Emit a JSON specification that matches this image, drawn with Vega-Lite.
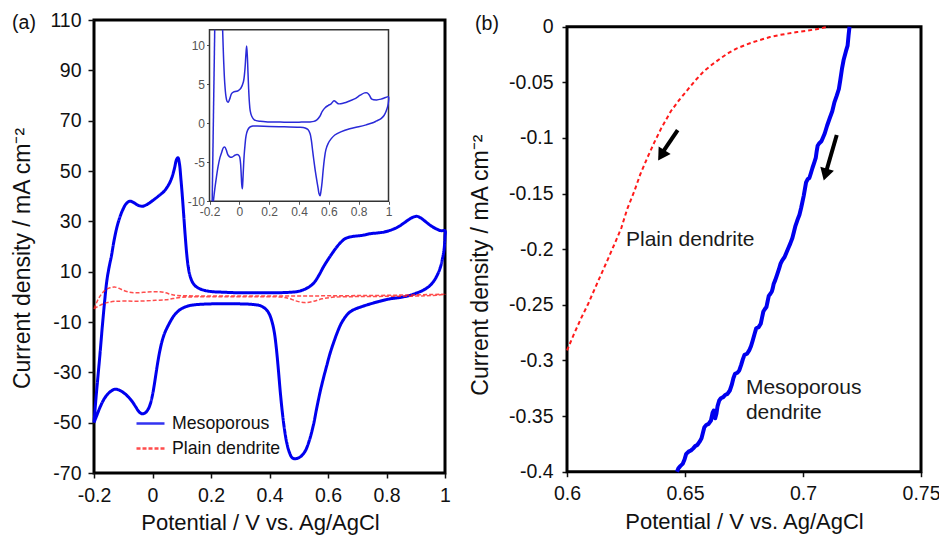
{
  "$schema": "https://vega.github.io/schema/vega-lite/v6.json",
  "background": "white",
  "padding": {"left": 10, "top": 8, "right": 0, "bottom": 0},
  "datasets": {
    "meso": [
      {"E":-0.2,"J":-50},{"E":-0.193,"J":-40},{"E":-0.186,"J":-31},{"E":-0.179,"J":-22},{"E":-0.171,"J":-11},{"E":-0.163,"J":-1},{"E":-0.156,"J":6.5},{"E":-0.148,"J":12},{"E":-0.14,"J":16.5},{"E":-0.132,"J":22},{"E":-0.122,"J":27.5},{"E":-0.112,"J":31.5},{"E":-0.102,"J":34.5},{"E":-0.09,"J":37},{"E":-0.078,"J":38},{"E":-0.065,"J":37.5},{"E":-0.05,"J":36.4},{"E":-0.035,"J":36},{"E":-0.02,"J":36.6},{"E":0,"J":38.2},{"E":0.02,"J":40},{"E":0.04,"J":42},{"E":0.055,"J":44.5},{"E":0.065,"J":47},{"E":0.075,"J":51},{"E":0.082,"J":54.5},{"E":0.087,"J":55.3},{"E":0.092,"J":53},{"E":0.097,"J":47},{"E":0.102,"J":40},{"E":0.107,"J":32},{"E":0.112,"J":24},{"E":0.117,"J":17},{"E":0.122,"J":12},{"E":0.128,"J":8.5},{"E":0.135,"J":6.2},{"E":0.145,"J":4.5},{"E":0.16,"J":3.3},{"E":0.18,"J":2.5},{"E":0.2,"J":2.1},{"E":0.25,"J":1.8},{"E":0.3,"J":1.6},{"E":0.35,"J":1.6},{"E":0.4,"J":1.6},{"E":0.45,"J":1.7},{"E":0.48,"J":1.9},{"E":0.5,"J":2.2},{"E":0.52,"J":3},{"E":0.54,"J":4.3},{"E":0.555,"J":6},{"E":0.57,"J":8.8},{"E":0.585,"J":12},{"E":0.6,"J":14.8},{"E":0.615,"J":17.4},{"E":0.63,"J":19.8},{"E":0.645,"J":21.8},{"E":0.66,"J":23.2},{"E":0.68,"J":23.9},{"E":0.7,"J":24.2},{"E":0.72,"J":24.5},{"E":0.745,"J":25.1},{"E":0.77,"J":25.4},{"E":0.79,"J":25.7},{"E":0.812,"J":26.4},{"E":0.835,"J":27.5},{"E":0.857,"J":29.1},{"E":0.875,"J":30.6},{"E":0.89,"J":31.6},{"E":0.903,"J":32},{"E":0.915,"J":31.5},{"E":0.927,"J":30.5},{"E":0.94,"J":29.3},{"E":0.955,"J":28},{"E":0.972,"J":26.9},{"E":0.985,"J":26.3},{"E":1,"J":26.2},
      {"E":1,"J":24},{"E":0.997,"J":19},{"E":0.992,"J":15.5},{"E":0.985,"J":12},{"E":0.975,"J":9},{"E":0.962,"J":6.3},{"E":0.945,"J":4.1},{"E":0.925,"J":2.6},{"E":0.9,"J":1.4},{"E":0.88,"J":0.6},{"E":0.85,"J":-0.2},{"E":0.812,"J":-0.8},{"E":0.775,"J":-1.8},{"E":0.745,"J":-2.8},{"E":0.715,"J":-3.9},{"E":0.69,"J":-5},{"E":0.672,"J":-6.3},{"E":0.658,"J":-8.2},{"E":0.645,"J":-10.6},{"E":0.633,"J":-13.8},{"E":0.62,"J":-17.9},{"E":0.607,"J":-22.5},{"E":0.596,"J":-27.2},{"E":0.584,"J":-32.5},{"E":0.573,"J":-37.8},{"E":0.561,"J":-44.5},{"E":0.55,"J":-51},{"E":0.535,"J":-57.5},{"E":0.521,"J":-61.5},{"E":0.505,"J":-63.6},{"E":0.49,"J":-64.3},{"E":0.478,"J":-64},{"E":0.468,"J":-61.8},{"E":0.459,"J":-58},{"E":0.451,"J":-52.5},{"E":0.444,"J":-46},{"E":0.437,"J":-38},{"E":0.43,"J":-28.5},{"E":0.423,"J":-20},{"E":0.417,"J":-14.5},{"E":0.41,"J":-10.5},{"E":0.4,"J":-7},{"E":0.39,"J":-5.2},{"E":0.38,"J":-4.2},{"E":0.368,"J":-3.5},{"E":0.34,"J":-3},{"E":0.3,"J":-2.8},{"E":0.25,"J":-2.7},{"E":0.2,"J":-2.8},{"E":0.16,"J":-3},{"E":0.13,"J":-3.4},{"E":0.11,"J":-4.1},{"E":0.095,"J":-5},{"E":0.083,"J":-6.2},{"E":0.072,"J":-7.7},{"E":0.062,"J":-9.6},{"E":0.052,"J":-11.8},{"E":0.042,"J":-14.3},{"E":0.033,"J":-17.5},{"E":0.025,"J":-21.5},{"E":0.018,"J":-26},{"E":0.012,"J":-30.5},{"E":0.006,"J":-35},{"E":0.0,"J":-39},{"E":-0.007,"J":-42.4},{"E":-0.015,"J":-44.7},{"E":-0.025,"J":-46.1},{"E":-0.035,"J":-46.5},{"E":-0.045,"J":-45.8},{"E":-0.058,"J":-43.6},{"E":-0.07,"J":-41.5},{"E":-0.085,"J":-39.5},{"E":-0.1,"J":-38},{"E":-0.115,"J":-37},{"E":-0.128,"J":-36.7},{"E":-0.14,"J":-37.3},{"E":-0.152,"J":-38.5},{"E":-0.165,"J":-40.5},{"E":-0.178,"J":-43.5},{"E":-0.19,"J":-47},{"E":-0.2,"J":-50}
    ],
    "plain": [
      {"E":-0.2,"J":-4.8},{"E":-0.188,"J":-1.5},{"E":-0.175,"J":1},{"E":-0.16,"J":2.8},{"E":-0.145,"J":3.6},{"E":-0.13,"J":3.9},{"E":-0.115,"J":3.4},{"E":-0.1,"J":2.6},{"E":-0.08,"J":1.9},{"E":-0.06,"J":1.6},{"E":-0.03,"J":1.8},{"E":0,"J":2},{"E":0.025,"J":2},{"E":0.045,"J":1.6},{"E":0.065,"J":0.9},{"E":0.085,"J":0.5},{"E":0.12,"J":0.4},{"E":0.2,"J":0.35},{"E":0.3,"J":0.35},{"E":0.4,"J":0.35},{"E":0.5,"J":0.35},{"E":0.6,"J":0.4},{"E":0.7,"J":0.5},{"E":0.8,"J":0.6},{"E":0.9,"J":0.8},{"E":1,"J":1},
      {"E":0.95,"J":0.5},{"E":0.9,"J":0.3},{"E":0.8,"J":0.2},{"E":0.7,"J":0.1},{"E":0.62,"J":-0.1},{"E":0.58,"J":-0.8},{"E":0.55,"J":-1.8},{"E":0.52,"J":-2.3},{"E":0.49,"J":-1.6},{"E":0.465,"J":-0.6},{"E":0.44,"J":-0.1},{"E":0.35,"J":0},{"E":0.25,"J":0},{"E":0.15,"J":0},{"E":0.1,"J":-0.2},{"E":0.07,"J":-0.7},{"E":0.045,"J":-1.2},{"E":0.01,"J":-1.4},{"E":-0.04,"J":-1.7},{"E":-0.09,"J":-1.7},{"E":-0.13,"J":-1.8},{"E":-0.155,"J":-2.3},{"E":-0.178,"J":-3.3},{"E":-0.2,"J":-4.8}
    ],
    "insetRise": [{"E":-0.182,"J":-10},{"E":-0.165,"J":12}],
    "inset": [
      {"E":-0.112,"J":12},{"E":-0.105,"J":8},{"E":-0.098,"J":5.2},{"E":-0.09,"J":3.5},{"E":-0.082,"J":2.8},{"E":-0.075,"J":2.7},{"E":-0.065,"J":3.1},{"E":-0.052,"J":3.8},{"E":-0.04,"J":4.0},{"E":-0.02,"J":4.1},{"E":-0.007,"J":4.2},{"E":0.01,"J":4.5},{"E":0.027,"J":5.3},{"E":0.037,"J":6.8},{"E":0.044,"J":8.8},{"E":0.049,"J":9.9},{"E":0.054,"J":8.5},{"E":0.058,"J":6.5},{"E":0.062,"J":4.6},{"E":0.067,"J":2.8},{"E":0.073,"J":1.6},{"E":0.083,"J":0.9},{"E":0.1,"J":0.45},{"E":0.14,"J":0.25},{"E":0.2,"J":0.17},{"E":0.3,"J":0.15},{"E":0.4,"J":0.15},{"E":0.47,"J":0.17},{"E":0.5,"J":0.25},{"E":0.52,"J":0.45},{"E":0.54,"J":0.9},{"E":0.555,"J":1.5},{"E":0.575,"J":2},{"E":0.597,"J":2.3},{"E":0.615,"J":2.5},{"E":0.635,"J":2.9},{"E":0.65,"J":2.7},{"E":0.664,"J":2.5},{"E":0.7,"J":2.6},{"E":0.743,"J":2.9},{"E":0.78,"J":3.2},{"E":0.81,"J":3.6},{"E":0.84,"J":3.9},{"E":0.857,"J":3.9},{"E":0.872,"J":3.6},{"E":0.888,"J":3.1},{"E":0.92,"J":3.0},{"E":0.95,"J":3.1},{"E":0.98,"J":3.3},{"E":1,"J":3.4},
      {"E":1,"J":2.8},{"E":0.995,"J":2.2},{"E":0.985,"J":1.6},{"E":0.97,"J":1.0},{"E":0.95,"J":0.6},{"E":0.92,"J":0.3},{"E":0.9,"J":0.1},{"E":0.85,"J":-0.2},{"E":0.8,"J":-0.45},{"E":0.74,"J":-0.7},{"E":0.68,"J":-1.1},{"E":0.64,"J":-1.5},{"E":0.615,"J":-2},{"E":0.595,"J":-2.6},{"E":0.58,"J":-3.4},{"E":0.57,"J":-4.6},{"E":0.562,"J":-6},{"E":0.555,"J":-7.5},{"E":0.548,"J":-8.6},{"E":0.541,"J":-9.3},{"E":0.534,"J":-9.0},{"E":0.528,"J":-8.3},{"E":0.52,"J":-7.4},{"E":0.51,"J":-6.2},{"E":0.5,"J":-4.8},{"E":0.492,"J":-3.6},{"E":0.483,"J":-2.2},{"E":0.474,"J":-1.3},{"E":0.46,"J":-0.8},{"E":0.441,"J":-0.6},{"E":0.4,"J":-0.5},{"E":0.3,"J":-0.45},{"E":0.2,"J":-0.4},{"E":0.12,"J":-0.35},{"E":0.09,"J":-0.35},{"E":0.07,"J":-0.5},{"E":0.055,"J":-0.9},{"E":0.045,"J":-1.6},{"E":0.038,"J":-2.8},{"E":0.032,"J":-4.2},{"E":0.027,"J":-6},{"E":0.023,"J":-7.6},{"E":0.02,"J":-8.4},{"E":0.016,"J":-7.8},{"E":0.012,"J":-6.3},{"E":0.007,"J":-4.9},{"E":0.0,"J":-4.2},{"E":-0.015,"J":-4.0},{"E":-0.03,"J":-4.1},{"E":-0.045,"J":-4.3},{"E":-0.06,"J":-4.35},{"E":-0.075,"J":-4.1},{"E":-0.088,"J":-3.4},{"E":-0.097,"J":-3.05},{"E":-0.106,"J":-3.1},{"E":-0.118,"J":-3.7},{"E":-0.13,"J":-4.4},{"E":-0.143,"J":-5.6},{"E":-0.155,"J":-7.1},{"E":-0.165,"J":-8.5},{"E":-0.174,"J":-10}
    ],
    "plainB": [
      {"E":0.6,"J":-0.291},{"E":0.603,"J":-0.276},{"E":0.606,"J":-0.262},{"E":0.609,"J":-0.249},{"E":0.6125,"J":-0.232},{"E":0.6165,"J":-0.213},{"E":0.62,"J":-0.196},{"E":0.623,"J":-0.181},{"E":0.6255,"J":-0.164},{"E":0.6285,"J":-0.148},{"E":0.631,"J":-0.133},{"E":0.634,"J":-0.118},{"E":0.637,"J":-0.104},{"E":0.64,"J":-0.091},{"E":0.644,"J":-0.076},{"E":0.6475,"J":-0.066},{"E":0.651,"J":-0.057},{"E":0.6545,"J":-0.048},{"E":0.658,"J":-0.04},{"E":0.6615,"J":-0.034},{"E":0.665,"J":-0.0285},{"E":0.6685,"J":-0.0235},{"E":0.672,"J":-0.0195},{"E":0.6755,"J":-0.0165},{"E":0.679,"J":-0.0138},{"E":0.6825,"J":-0.0115},{"E":0.686,"J":-0.0093},{"E":0.69,"J":-0.0075},{"E":0.694,"J":-0.006},{"E":0.6975,"J":-0.0048},{"E":0.701,"J":-0.0038},{"E":0.704,"J":-0.0028},{"E":0.707,"J":-0.0018},{"E":0.709,"J":-0.0008},{"E":0.711,"J":0}
    ],
    "mesoB": [
      {"E":0.7197,"J":0},{"E":0.7193,"J":-0.008},{"E":0.7189,"J":-0.017},{"E":0.7182,"J":-0.022},{"E":0.7172,"J":-0.03},{"E":0.7165,"J":-0.038},{"E":0.7158,"J":-0.048},{"E":0.7152,"J":-0.056},{"E":0.7143,"J":-0.062},{"E":0.7133,"J":-0.068},{"E":0.7124,"J":-0.076},{"E":0.7112,"J":-0.083},{"E":0.7102,"J":-0.089},{"E":0.7092,"J":-0.096},{"E":0.7084,"J":-0.1},{"E":0.7078,"J":-0.103},{"E":0.7068,"J":-0.105},{"E":0.7062,"J":-0.107},{"E":0.7058,"J":-0.112},{"E":0.7054,"J":-0.118},{"E":0.7048,"J":-0.122},{"E":0.704,"J":-0.127},{"E":0.7033,"J":-0.132},{"E":0.7027,"J":-0.136},{"E":0.702,"J":-0.137},{"E":0.7013,"J":-0.14},{"E":0.7008,"J":-0.146},{"E":0.7003,"J":-0.152},{"E":0.6997,"J":-0.158},{"E":0.6992,"J":-0.163},{"E":0.6985,"J":-0.169},{"E":0.6976,"J":-0.174},{"E":0.6968,"J":-0.179},{"E":0.6962,"J":-0.184},{"E":0.6955,"J":-0.19},{"E":0.6946,"J":-0.195},{"E":0.6938,"J":-0.199},{"E":0.693,"J":-0.203},{"E":0.6922,"J":-0.207},{"E":0.6912,"J":-0.21},{"E":0.6905,"J":-0.213},{"E":0.6898,"J":-0.218},{"E":0.689,"J":-0.223},{"E":0.6882,"J":-0.228},{"E":0.6876,"J":-0.231},{"E":0.6872,"J":-0.235},{"E":0.6868,"J":-0.238},{"E":0.6862,"J":-0.24},{"E":0.6855,"J":-0.242},{"E":0.685,"J":-0.247},{"E":0.6845,"J":-0.252},{"E":0.6838,"J":-0.254},{"E":0.6832,"J":-0.256},{"E":0.6826,"J":-0.262},{"E":0.6821,"J":-0.267},{"E":0.6812,"J":-0.27},{"E":0.6802,"J":-0.271},{"E":0.6795,"J":-0.276},{"E":0.6787,"J":-0.282},{"E":0.678,"J":-0.287},{"E":0.6772,"J":-0.291},{"E":0.6763,"J":-0.294},{"E":0.6752,"J":-0.295},{"E":0.6745,"J":-0.299},{"E":0.6738,"J":-0.304},{"E":0.673,"J":-0.309},{"E":0.6722,"J":-0.311},{"E":0.6712,"J":-0.312},{"E":0.6705,"J":-0.316},{"E":0.6698,"J":-0.322},{"E":0.669,"J":-0.327},{"E":0.668,"J":-0.33},{"E":0.667,"J":-0.331},{"E":0.6662,"J":-0.333},{"E":0.6652,"J":-0.334},{"E":0.6645,"J":-0.336},{"E":0.6638,"J":-0.341},{"E":0.6633,"J":-0.348},{"E":0.6628,"J":-0.352},{"E":0.6622,"J":-0.345},{"E":0.6617,"J":-0.347},{"E":0.661,"J":-0.354},{"E":0.66,"J":-0.357},{"E":0.659,"J":-0.358},{"E":0.6582,"J":-0.36},{"E":0.6576,"J":-0.365},{"E":0.657,"J":-0.37},{"E":0.6562,"J":-0.373},{"E":0.6552,"J":-0.376},{"E":0.6543,"J":-0.377},{"E":0.6535,"J":-0.379},{"E":0.6525,"J":-0.381},{"E":0.6515,"J":-0.382},{"E":0.6505,"J":-0.384},{"E":0.6498,"J":-0.389},{"E":0.649,"J":-0.393},{"E":0.648,"J":-0.395},{"E":0.6472,"J":-0.397},{"E":0.6466,"J":-0.4}
    ]
  },
  "concat": [
    {
      "width": 351,
      "height": 453,
      "layer": [
        {
          "layer": [
            {
              "data": {"name": "meso"},
              "mark": {"type": "line", "strokeWidth": 3, "interpolate": "catmull-rom", "strokeJoin": "round"},
              "encoding": {
                "x": {"field": "E", "type": "quantitative", "scale": {"domain": [-0.2, 1], "nice": false, "zero": false},
                      "axis": {"values": [-0.2, 0, 0.2, 0.4, 0.6, 0.8, 1], "format": "~g", "title": "Potential / V vs. Ag/AgCl", "titleX": 166, "tickSize": 5, "labelPadding": 8, "titlePadding": 8}},
                "y": {"field": "J", "type": "quantitative", "scale": {"domain": [-70, 110], "nice": false, "zero": false},
                      "axis": {"values": [-70, -50, -30, -10, 10, 30, 50, 70, 90, 110], "title": "Current density / mA cm⁻²", "titleY": 238, "tickSize": 6, "labelPadding": 7, "titlePadding": 15}},
                "order": {"value": null},
                "color": {"datum": "Mesoporous", "type": "nominal", "scale": {"domain": ["Mesoporous", "Plain dendrite"], "range": ["#0000ee", "#ff2020"]},
                          "legend": {"orient": "none", "legendX": 41, "legendY": 388, "title": null, "padding": 0, "labelFont": "Liberation Sans", "labelFontSize": 17.7, "labelColor": "#111", "symbolType": "stroke", "symbolSize": 784, "symbolStrokeWidth": 2.5, "labelOffset": 6, "rowPadding": -2.6}},
                "strokeDash": {"datum": "Mesoporous", "type": "nominal", "scale": {"domain": ["Mesoporous", "Plain dendrite"], "range": [[1, 0], [4, 2]]}}
              }
            },
            {
              "data": {"name": "plain"},
              "mark": {"type": "line", "strokeWidth": 1.5, "interpolate": "catmull-rom", "opacity": 0.8},
              "encoding": {
                "x": {"field": "E", "type": "quantitative"},
                "y": {"field": "J", "type": "quantitative"},
                "order": {"value": null},
                "color": {"datum": "Plain dendrite", "type": "nominal"},
                "strokeDash": {"datum": "Plain dendrite", "type": "nominal"}
              }
            },
            {
              "data": {"values": [{"E": -0.2, "J": 110, "t": "(a)"}]},
              "mark": {"type": "text", "fontSize": 19.5, "font": "Liberation Sans", "color": "#111", "align": "center", "baseline": "middle", "dx": -70, "dy": 3},
              "encoding": {
                "x": {"field": "E", "type": "quantitative"},
                "y": {"field": "J", "type": "quantitative"},
                "text": {"field": "t"}
              }
            }
          ]
        },
        {
          "layer": [
            {
              "data": {"values": [{"x0": -0.2, "x1": 1, "y0": -10, "y1": 12}]},
              "mark": {"type": "rect", "fill": "white", "stroke": "#333", "strokeWidth": 1.5},
              "encoding": {
                "x": {"field": "x0", "type": "quantitative", "scale": {"domain": [-0.2, 1], "range": [115.5, 294.5], "nice": false, "zero": false},
                      "axis": {"orient": "bottom", "offset": -271.7, "values": [-0.2, 0, 0.2, 0.4, 0.6, 0.8, 1], "format": "~g", "title": null, "labelFontSize": 12, "labelColor": "#555", "tickColor": "#555", "tickSize": 3, "tickWidth": 1, "labelPadding": 2}},
                "x2": {"field": "x1"},
                "y": {"field": "y0", "type": "quantitative", "scale": {"domain": [-10, 12], "range": [181.3, 9.7], "nice": false, "zero": false},
                      "axis": {"orient": "left", "offset": -115.5, "values": [-10, -5, 0, 5, 10], "title": null, "labelFontSize": 12, "labelColor": "#555", "tickColor": "#555", "tickSize": 3, "tickWidth": 1, "labelPadding": 2}},
                "y2": {"field": "y1"}
              }
            },
            {
              "data": {"name": "inset"},
              "mark": {"type": "line", "strokeWidth": 1.5, "color": "#2a2ad8", "interpolate": "catmull-rom"},
              "encoding": {
                "x": {"field": "E", "type": "quantitative"},
                "y": {"field": "J", "type": "quantitative"},
                "order": {"value": null}
              }
            },
            {
              "data": {"name": "insetRise"},
              "mark": {"type": "line", "strokeWidth": 1.5, "color": "#2a2ad8"},
              "encoding": {
                "x": {"field": "E", "type": "quantitative"},
                "y": {"field": "J", "type": "quantitative"},
                "order": {"value": null}
              }
            }
          ]
        }
      ],
      "resolve": {"scale": {"x": "independent", "y": "independent"}}
    },
    {
      "width": 354,
      "height": 451.7,
      "view": {"stroke": null},
      "layer": [
        {
          "data": {"values": [{"x0": 0.6, "x1": 0.75, "y0": -0.4, "y1": 0}]},
          "mark": {"type": "rect", "fill": null, "fillOpacity": 0, "stroke": "black", "strokeWidth": 3},
          "encoding": {
            "x": {"field": "x0", "type": "quantitative", "scale": {"domain": [0.6, 0.75], "nice": false, "zero": false},
                  "axis": {"values": [0.6, 0.65, 0.7, 0.75], "format": "~g", "title": "Potential / V vs. Ag/AgCl", "tickSize": 5, "labelPadding": 8, "titlePadding": 8}},
            "x2": {"field": "x1"},
            "y": {"field": "y0", "type": "quantitative", "scale": {"domain": [-0.4, 0.00602], "nice": false, "zero": false},
                  "axis": {"values": [-0.4, -0.35, -0.3, -0.25, -0.2, -0.15, -0.1, -0.05, 0], "format": "~g", "title": "Current density / mA cm⁻²", "titleY": 244.7, "tickSize": 5, "labelPadding": 9, "titlePadding": 16}},
            "y2": {"field": "y1"}
          }
        },
        {
          "data": {"name": "plainB"},
          "mark": {"type": "line", "color": "#ff1a1a", "strokeWidth": 2, "strokeDash": [4, 3]},
          "encoding": {
            "x": {"field": "E", "type": "quantitative"},
            "y": {"field": "J", "type": "quantitative"},
            "order": {"value": null}
          }
        },
        {
          "data": {"name": "mesoB"},
          "mark": {"type": "line", "color": "#0000ee", "strokeWidth": 4, "strokeJoin": "round"},
          "encoding": {
            "x": {"field": "E", "type": "quantitative"},
            "y": {"field": "J", "type": "quantitative"},
            "order": {"value": null}
          }
        },
        {
          "data": {"values": [{"E": 0.6469, "J": -0.0929, "E2": 0.6405, "J2": -0.113}, {"E": 0.7143, "J": -0.0974, "E2": 0.7097, "J2": -0.131}]},
          "mark": {"type": "rule", "color": "black", "strokeWidth": 4},
          "encoding": {
            "x": {"field": "E", "type": "quantitative"},
            "y": {"field": "J", "type": "quantitative"},
            "x2": {"field": "E2"},
            "y2": {"field": "J2"}
          }
        },
        {
          "data": {"values": [{"E": 0.64, "J": -0.1157}]},
          "mark": {"type": "point", "shape": "triangle-up", "filled": true, "color": "black", "size": 200, "angle": 212, "opacity": 1},
          "encoding": {
            "x": {"field": "E", "type": "quantitative"},
            "y": {"field": "J", "type": "quantitative"}
          }
        },
        {
          "data": {"values": [{"E": 0.7095, "J": -0.133}]},
          "mark": {"type": "point", "shape": "triangle-up", "filled": true, "color": "black", "size": 200, "angle": 196, "opacity": 1},
          "encoding": {
            "x": {"field": "E", "type": "quantitative"},
            "y": {"field": "J", "type": "quantitative"}
          }
        },
        {
          "data": {"values": [{"E": 0.625, "J": -0.1915, "t": "Plain dendrite"}, {"E": 0.6758, "J": -0.3245, "t": "Mesoporous"}, {"E": 0.6758, "J": -0.347, "t": "dendrite"}]},
          "mark": {"type": "text", "align": "left", "baseline": "middle", "fontSize": 21, "font": "Liberation Sans", "color": "#1a1a1a"},
          "encoding": {
            "x": {"field": "E", "type": "quantitative"},
            "y": {"field": "J", "type": "quantitative"},
            "text": {"field": "t"}
          }
        },
        {
          "data": {"values": [{"E": 0.6, "J": 0, "t": "(b)"}]},
          "mark": {"type": "text", "fontSize": 19.5, "font": "Liberation Sans", "color": "#111", "align": "center", "baseline": "middle", "dx": -80, "dy": -2.5},
          "encoding": {
            "x": {"field": "E", "type": "quantitative"},
            "y": {"field": "J", "type": "quantitative"},
            "text": {"field": "t"}
          }
        }
      ]
    }
  ],
  "columns": 2,
  "align": "none",
  "spacing": 17,
  "config": {
    "font": "Liberation Sans",
    "view": {"stroke": "black", "strokeWidth": 3},
    "axis": {"domain": false, "grid": false, "labelFlush": false, "labelFont": "Liberation Sans", "labelFontSize": 19.5, "labelColor": "#111", "titleFont": "Liberation Sans", "titleFontSize": 22, "titleFontWeight": "normal", "titleColor": "#111", "tickColor": "#111", "tickWidth": 1.5},
    "axisY": {"titleFontSize": 23},
    "locale": {"number": {"decimal": ".", "thousands": ",", "grouping": [3], "currency": ["$", ""], "minus": "-"}}
  }
}
